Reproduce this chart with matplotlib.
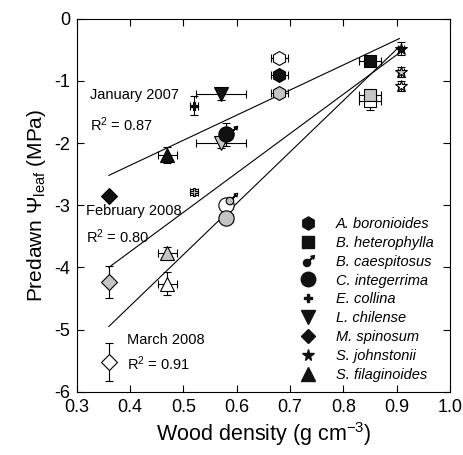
import numpy as np
import matplotlib
matplotlib.use("Agg")
import matplotlib.pyplot as plt
from matplotlib.path import Path
from matplotlib.lines import Line2D

plt.rcParams['font.family'] = ['Liberation Sans', 'DejaVu Sans']
plt.rcParams['mathtext.fontset'] = 'custom'
plt.rcParams['mathtext.rm'] = 'Liberation Sans'
plt.rcParams['mathtext.it'] = 'Liberation Sans:italic'
plt.rcParams['axes.unicode_minus'] = False

species = ['A. boronioides', 'B. heterophylla', 'B. caespitosus', 'C. integerrima',
           'E. collina', 'L. chilense', 'M. spinosum', 'S. johnstonii', 'S. filaginoides']

# wood density per species and its error
density = [0.68, 0.85, 0.59, 0.58, 0.52, 0.57, 0.36, 0.908, 0.47]
density_err = [0.016, 0.02, 0.0, 0.012, 0.008, 0.047, 0.005, 0.005, 0.017]

# predawn leaf water potential (MPa) for each campaign, nan = not measured
psi_jan = [-0.90, -0.68, -1.82, -1.86, -1.40, -1.21, -2.86, -0.48, -2.19]
psi_jan_err = [0.05, 0.05, 0.0, 0.18, 0.15, 0.10, 0.06, 0.10, 0.13]
psi_feb = [-1.19, -1.22, -2.90, -3.20, -2.79, -2.00, -4.24, -0.86, -3.77]
psi_feb_err = [0.07, 0.05, 0.0, 0.10, 0.05, 0.08, 0.26, 0.08, 0.10]
psi_mar = [-0.63, -1.32, np.nan, -3.00, np.nan, np.nan, -5.52, -1.08, -4.26]
psi_mar_err = [0.05, 0.15, 0.0, 0.10, 0.0, 0.0, 0.30, 0.08, 0.18]

# regression lines (end points)
fit_x = [0.36, 0.905]
fit_jan = [-2.52, -0.32]
fit_feb = [-4.00, -0.55]
fit_mar = [-4.95, -0.45]


def male_marker():
    circ = Path.circle(center=(-0.25, -0.25), radius=0.6)
    stem = Path([(0.12, 0.22), (0.22, 0.12), (0.75, 0.65), (0.65, 0.75), (0.12, 0.22)],
                [Path.MOVETO, Path.LINETO, Path.LINETO, Path.LINETO, Path.CLOSEPOLY])
    head = Path([(1.0, 1.0), (0.4, 0.88), (0.88, 0.4), (1.0, 1.0)],
                [Path.MOVETO, Path.LINETO, Path.LINETO, Path.CLOSEPOLY])
    return Path.make_compound_path(circ, stem, head)


markers = ['h', 's', male_marker(), 'o', 'P', 'v', 'D', '*', '^']
sizes = [10, 8.5, 9, 11, 6, 10, 8, 9, 10]

fig = plt.figure(figsize=(4.63, 4.55), dpi=100)
ax = fig.add_axes([0.166, 0.139, 0.806, 0.820])

for xs, ys in [(fit_x, fit_jan), (fit_x, fit_feb), (fit_x, fit_mar)]:
    ax.plot(xs, ys, color='black', lw=0.8, zorder=1)

series = [(psi_mar, psi_mar_err, 'white'),
          (psi_feb, psi_feb_err, '#c4c4c4'),
          (psi_jan, psi_jan_err, '#111111')]

for ys, yerr, fc in series:
    for i in range(len(species)):
        if np.isnan(ys[i]):
            continue
        ax.errorbar(density[i], ys[i], xerr=density_err[i] or None, yerr=yerr[i] or None,
                    fmt='none', ecolor='black', elinewidth=0.8, capsize=3, capthick=0.8,
                    zorder=2)
        ax.plot(density[i], ys[i], marker=markers[i], ms=sizes[i], mfc=fc,
                mec='black', mew=0.8, ls='none', zorder=3)

fs = 10.5
ax.text(0.324, -1.23, 'January 2007', fontsize=fs, va='center')
ax.text(0.324, -1.70, 'R$^2$ = 0.87', fontsize=fs, va='center')
ax.text(0.317, -3.10, 'February 2008', fontsize=fs, va='center')
ax.text(0.317, -3.50, 'R$^2$ = 0.80', fontsize=fs, va='center')
ax.text(0.394, -5.16, 'March 2008', fontsize=fs, va='center')
ax.text(0.394, -5.55, 'R$^2$ = 0.91', fontsize=fs, va='center')

handles = [Line2D([], [], marker=m, ms=s * 0.95, color='#111111', ls='none')
           for m, s in zip(markers, sizes)]
leg = ax.legend(handles, species, loc='upper left', bbox_to_anchor=(0.58, 0.468),
                frameon=False, fontsize=fs, handletextpad=0.9, labelspacing=0.33,
                borderaxespad=0, borderpad=0)
for t in leg.get_texts():
    t.set_fontstyle('italic')

ax.set_xlim(0.3, 1.0)
ax.set_ylim(-6, 0)
ax.set_xticks(np.arange(0.3, 1.01, 0.1))
ax.set_xticklabels(['0.3', '0.4', '0.5', '0.6', '0.7', '0.8', '0.9', '1.0'])
ax.set_yticks(range(-6, 1))
ax.tick_params(direction='in', top=True, right=True, length=5, width=0.8,
               labelsize=13, pad=5)
for sp in ax.spines.values():
    sp.set_linewidth(0.8)

ax.set_xlabel('Wood density (g cm$^{-3}$)', fontsize=15.5, labelpad=3)
ax.set_ylabel(r'Predawn $\Psi_{\mathrm{leaf}}$ (MPa)', fontsize=15, labelpad=4)

fig.savefig('out.png', dpi=100)
